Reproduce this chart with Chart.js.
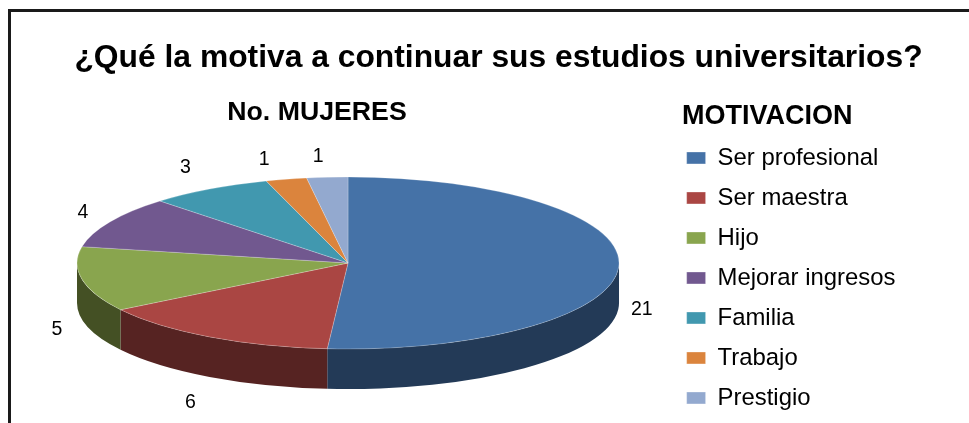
<!DOCTYPE html>
<html>
<head>
    <meta charset="utf-8">
    <title>Motivacion</title>
    <style>
        html, body { margin: 0; padding: 0; background: #fff; overflow: hidden; }
        #frame {
            position: absolute; left: 8px; top: 9px; width: 970px; height: 420px;
            border: 3px solid #1a1a1a; border-right: none; box-sizing: content-box;
        }
        #wrap { position: absolute; left: 0; top: 0; width: 969px; height: 423px; overflow: hidden; }
    </style>
    <script src="https://cdn.jsdelivr.net/npm/chart.js@4"></script>
</head>
<body>
    <div id="frame"></div>
    <!-- canvas is taller than the window so the pie centre lands at y=263 and the legend stays in one column -->
    <div id="wrap"><canvas id="pie" width="969" height="526"></canvas></div>
    <script>
        const chartTitle = '¿Qué la motiva a continuar sus estudios universitarios?';
        const seriesTitle = 'No. MUJERES';
        const legendTitle = 'MOTIVACION';
        const categories = ['Ser profesional', 'Ser maestra', 'Hijo', 'Mejorar ingresos', 'Familia', 'Trabajo', 'Prestigio'];
        const mujeres = [21, 6, 5, 4, 3, 1, 1];
        const topColors = ['#4572A7', '#AA4643', '#89A54E', '#71588F', '#4198AF', '#DB843D', '#93A9CF'];
        const sideColors = ['#233A57', '#562322', '#445024', '#38294A', '#1F4C58', '#6E421E', '#495467'];

        // pie is drawn round, then squashed to look tilted
        const RX = 271, RY = 86, DEPTH = 40;
        const labelNudge = [[23, 3], [-19, 26], [-25, 10], [-27, -9], [-24, -21], [-22, -20], [-9, -21]];
        const FONT = '"Liberation Sans", Arial, sans-serif';

        const tiltPlugin = {
            id: 'tilt',
            beforeDatasetsDraw(chart) {
                const ctx = chart.ctx;
                const arcs = chart.getDatasetMeta(0).data;
                const cx = arcs[0].x, cy = arcs[0].y;
                // side wall, only the front half can be seen
                arcs.forEach((arc, i) => {
                    const a0 = Math.max(arc.startAngle, 0);
                    const a1 = Math.min(arc.endAngle, Math.PI);
                    if (a1 <= a0) return;
                    ctx.beginPath();
                    ctx.ellipse(cx, cy, RX, RY, 0, a0, a1);
                    ctx.ellipse(cx, cy + DEPTH, RX, RY, 0, a1, a0, true);
                    ctx.closePath();
                    ctx.fillStyle = sideColors[i];
                    ctx.fill();
                });
                ctx.save();
                ctx.translate(0, cy);
                ctx.scale(1, RY / RX);
                ctx.translate(0, -cy);
            },
            afterDatasetsDraw(chart) {
                const ctx = chart.ctx;
                ctx.restore();
                const arcs = chart.getDatasetMeta(0).data;
                const cx = arcs[0].x, cy = arcs[0].y;
                ctx.save();
                ctx.fillStyle = '#000';
                ctx.textAlign = 'center';
                ctx.textBaseline = 'middle';
                ctx.font = '19.5px ' + FONT;
                arcs.forEach((arc, i) => {
                    const mid = (arc.startAngle + arc.endAngle) / 2;
                    const sin = Math.sin(mid);
                    const x = cx + RX * Math.cos(mid);
                    const y = cy + RY * sin + (sin > 0 ? DEPTH : 0);
                    ctx.fillText(String(mujeres[i]), x + labelNudge[i][0], y + labelNudge[i][1]);
                });
                ctx.font = 'bold 31.8px ' + FONT;
                ctx.fillText(chartTitle, 498.5, 58);
                ctx.font = 'bold 26.7px ' + FONT;
                ctx.fillText(seriesTitle, 317, 113);
                // legend title sits left of the swatches, the legend's own title can't do that here
                ctx.textAlign = 'left';
                ctx.font = 'bold 27px ' + FONT;
                ctx.fillText(legendTitle, 682, 117);
                ctx.restore();
            }
        };

        new Chart(document.getElementById('pie'), {
            type: 'pie',
            data: {
                labels: categories,
                datasets: [{
                    data: mujeres,
                    backgroundColor: topColors,
                    borderColor: 'rgba(255,255,255,0.35)',
                    borderWidth: 1
                }]
            },
            options: {
                responsive: false,
                animation: false,
                radius: RX,
                layout: { padding: { left: 25.5, right: 63.5, top: 0, bottom: 0 } },
                plugins: {
                    tooltip: { enabled: false },
                    legend: {
                        position: 'right',
                        align: 'start',
                        title: {
                            // empty, only reserves the room above the rows
                            display: true,
                            text: '',
                            padding: { top: 97.5, bottom: 0 },
                            font: { family: FONT, size: 27, weight: 'bold' }
                        },
                        labels: {
                            color: '#000',
                            boxWidth: 19,
                            boxHeight: 12,
                            padding: 16.1,
                            font: { family: FONT, size: 23.9 }
                        }
                    }
                }
            },
            plugins: [tiltPlugin]
        });
    </script>
</body>
</html>
